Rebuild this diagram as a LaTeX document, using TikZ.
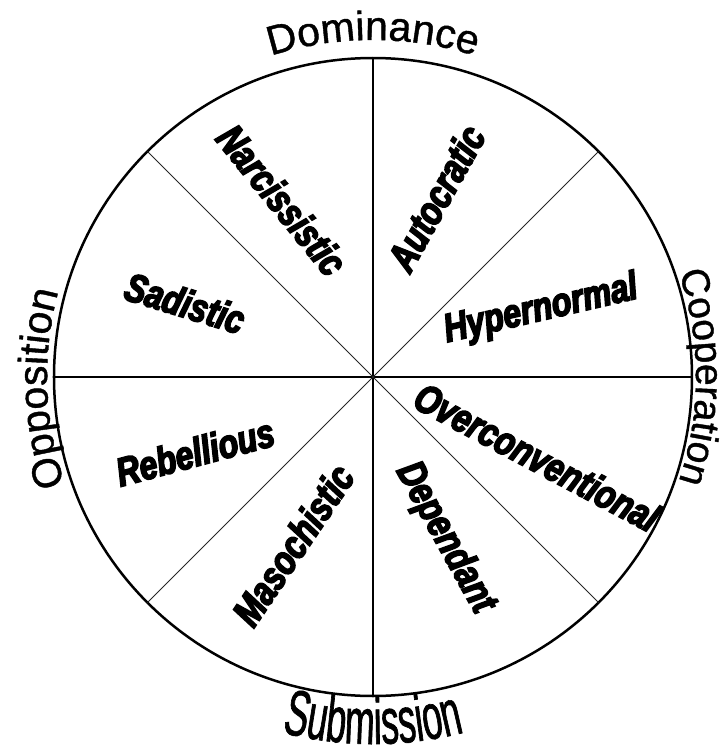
\documentclass[tikz,border=0pt]{standalone}
\usepackage{fontspec}
\setmainfont{Liberation Sans}
\newfontfamily\axisfont[FakeBold=1]{Liberation Sans}
\newfontfamily\squeezefont[FakeStretch=0.55,FakeBold=1]{Liberation Sans}
\newfontfamily\traitfont[FakeStretch=0.8,FakeBold=4]{Liberation Sans Bold Italic}
\usepackage{tikz}
\usetikzlibrary{decorations.text}
\definecolor{ink}{HTML}{000000}
\tikzset{
  trait/.style={font=\traitfont\fontsize{20pt}{20pt}\selectfont,text=ink,inner sep=0pt},
  spoke/.style={line width=0.75pt,ink},
  diag/.style={line width=0.5pt,ink!85},
}

\begin{document}
\begin{tikzpicture}[x=0.5pt,y=0.5pt]
\useasboundingbox (-373,-379) rectangle (351,377);
% the wheel and its eight spokes
\node[draw=ink,circle,line width=1.25pt,minimum size=319pt,inner sep=0pt,outer sep=0pt] (wheel) at (0,0) {};
\foreach \a in {0,90,180,270} {\draw[spoke] (wheel.center) -- (wheel.\a);}
\foreach \a in {45,135,225,315} {\draw[diag] (wheel.center) -- (wheel.\a);}
% four axis words round the rim
\path[decorate,decoration={text along path,text align=center,text={|\axisfont\fontsize{20.5pt}{20.5pt}\selectfont|Dominance}}] (130:337) arc[start angle=130,end angle=50,radius=337];
\path[decorate,decoration={text along path,text align=center,text={|\axisfont\fontsize{20.5pt}{20.5pt}\selectfont|Opposition}}] (222:326) arc[start angle=222,end angle=142,radius=326];
\path[decorate,decoration={text along path,text align=center,text={|\axisfont\fontsize{19.5pt}{19.5pt}\selectfont|Cooperation}}] (40:323) arc[start angle=40,end angle=-40,radius=323];
\path[decorate,decoration={text along path,text align=center,text={|\squeezefont\fontsize{32.5pt}{32.5pt}\selectfont|Submission}}] (235:367) arc[start angle=235,end angle=305,radius=367];
% one trait per sector
\foreach \nm/\x/\y/\rot/\txt in {narc/-91/177/-51/Narcissistic, auto/63/179/61/Autocratic, hyper/168/67/13/Hypernormal, overc/164/-80/-28/Overconventional, depend/72/-161/-61/Dependant, maso/-80/-168/56/Masochistic, rebel/-178/-75/15/Rebellious, sadi/-188/74/-17/Sadistic}
  {\node[trait,rotate=\rot] (\nm) at (\x,\y) {\txt};}
\end{tikzpicture}
\end{document}
